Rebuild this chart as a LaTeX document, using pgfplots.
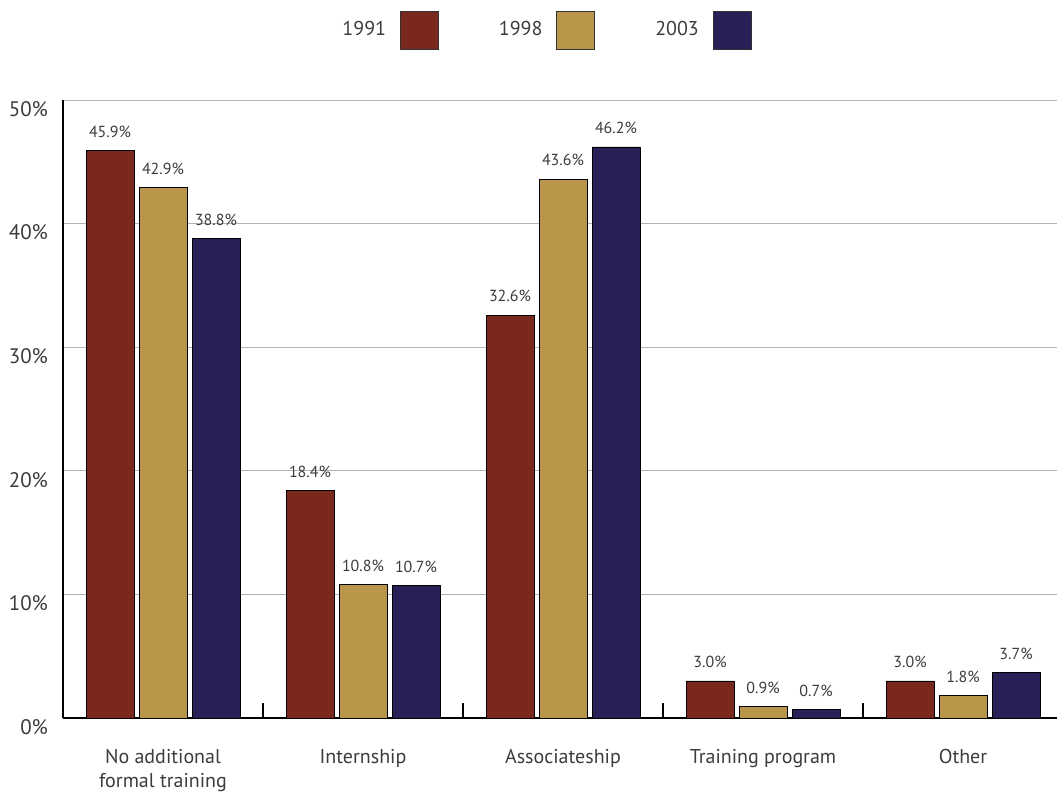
\documentclass[border=0pt]{standalone}
\usepackage{pgfplots}
\pgfplotsset{compat=1.18}
\usepackage{fontspec}
\setmainfont{PT Sans}

\definecolor{c91}{RGB}{122,40,30}
\definecolor{c98}{RGB}{186,150,74}
\definecolor{c03}{RGB}{42,32,88}
\definecolor{txt}{RGB}{60,60,60}

\pgfplotsset{
  sqlegend/.style={legend image code/.code={%
    \draw[##1,draw=black!80,line width=0.4pt] (0pt,-9.5pt) rectangle (19pt,9.5pt);}},
}

\begin{document}
\begin{tikzpicture}
\path[use as bounding box] (0,0) rectangle (528.5pt,397pt);
\begin{axis}[
  at={(31.5pt,38pt)}, anchor=south west,
  scale only axis, width=497pt, height=309pt,
  xmin=-0.5, xmax=4.47, ymin=0, ymax=50,
  ybar=2.5pt, bar width=24pt,
  axis lines*=left,
  x axis line style={line width=1pt},
  y axis line style={line width=0.6pt},
  ymajorgrids, major grid style={draw=black!30, line width=0.5pt},
  ytick={0,10,20,30,40,50},
  yticklabel={\pgfmathprintnumber{\tick}\%},
  /pgf/number format/assume math mode=true,
  yticklabel style={font=\fontsize{10.5}{12}\selectfont, text=txt, yshift=-4.5pt, xshift=-4pt},
  ytick style={draw=none},
  xtick={0,1,2,3,4},
  xticklabels={No additional\\formal training, Internship, Associateship, Training program, Other},
  xticklabel style={font=\fontsize{10}{12}\selectfont, text=txt, align=center, yshift=-12pt},
  xtick style={draw=none},
  major tick length=7.5pt, tick align=inside,
  extra x ticks={0.5,1.5,2.5,3.5},
  extra x tick labels={},
  extra x tick style={xtick style={draw=black, line width=0.7pt}},
  nodes near coords={\pgfmathprintnumber[fixed,fixed zerofill,precision=1]{\pgfplotspointmeta}\%},
  nodes near coords style={font=\fontsize{8}{9}\selectfont, text=txt, yshift=3pt},
  legend plot pos=right,
  legend columns=3,
  legend style={at={(0.485,1.113)}, anchor=center, draw=none, fill=none,
    font=\fontsize{10}{12}\selectfont, text=txt, column sep=5pt,
    /tikz/every even column/.append style={column sep=28pt}},
  clip=false,
]
\addplot[fill=c91, draw=black, line width=0.4pt, sqlegend] coordinates {(0,45.9) (1,18.4) (2,32.6) (3,3.0) (4,3.0)};
\addplot[fill=c98, draw=black, line width=0.4pt, sqlegend] coordinates {(0,42.9) (1,10.8) (2,43.6) (3,0.9) (4,1.8)};
\addplot[fill=c03, draw=black, line width=0.4pt, sqlegend] coordinates {(0,38.8) (1,10.7) (2,46.2) (3,0.7) (4,3.7)};
\legend{1991,1998,2003}
\end{axis}
\end{tikzpicture}
\end{document}
